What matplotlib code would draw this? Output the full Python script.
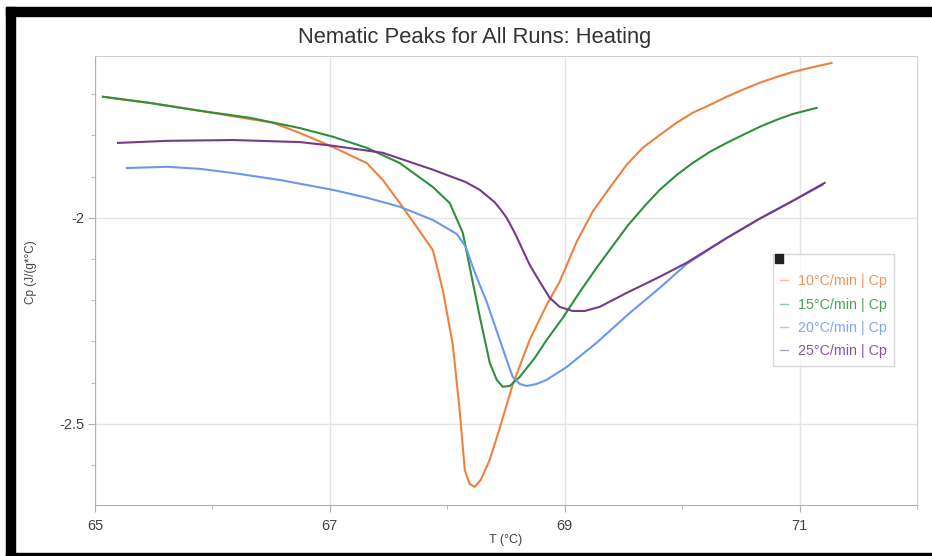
import matplotlib.pyplot as plt
from matplotlib.patches import Rectangle
from matplotlib.ticker import MultipleLocator

plt.rcParams['font.family'] = ['Liberation Sans', 'DejaVu Sans']

# 10 C/min
t_10 = [65.068, 65.468, 65.894, 66.319, 66.515, 66.745, 67.026, 67.315, 67.451, 67.596,
        67.740, 67.877, 67.962, 68.047, 68.106, 68.149, 68.191, 68.234, 68.285, 68.362,
        68.447, 68.557, 68.702, 68.847, 68.957, 69.102, 69.238, 69.383, 69.528, 69.664,
        69.809, 69.953, 70.089, 70.234, 70.379, 70.515, 70.660, 70.804, 70.940, 71.085, 71.272]
cp_10 = [-1.706, -1.721, -1.740, -1.760, -1.769, -1.794, -1.828, -1.867, -1.908, -1.964,
         -2.022, -2.078, -2.175, -2.308, -2.468, -2.612, -2.646, -2.653, -2.636, -2.587,
         -2.510, -2.405, -2.296, -2.211, -2.155, -2.058, -1.985, -1.927, -1.871, -1.830,
         -1.799, -1.769, -1.745, -1.726, -1.706, -1.689, -1.672, -1.658, -1.646, -1.636, -1.624]

# 15 C/min
t_15 = [65.068, 65.468, 65.894, 66.319, 66.745, 67.026, 67.315, 67.596, 67.877, 68.021,
        68.132, 68.191, 68.234, 68.277, 68.362, 68.421, 68.472, 68.532, 68.617, 68.745,
        68.847, 68.983, 69.128, 69.272, 69.409, 69.536, 69.681, 69.809, 69.953, 70.089,
        70.234, 70.379, 70.515, 70.660, 70.804, 70.940, 71.145]
cp_15 = [-1.706, -1.721, -1.740, -1.757, -1.782, -1.803, -1.830, -1.867, -1.925, -1.964,
         -2.036, -2.119, -2.180, -2.240, -2.352, -2.393, -2.410, -2.408, -2.386, -2.340,
         -2.296, -2.243, -2.180, -2.121, -2.068, -2.019, -1.971, -1.932, -1.896, -1.867,
         -1.840, -1.818, -1.799, -1.779, -1.762, -1.748, -1.733]

# 20 C/min
t_20 = [65.272, 65.613, 65.894, 66.174, 66.574, 67.026, 67.315, 67.596, 67.877, 68.081,
        68.157, 68.217, 68.277, 68.336, 68.447, 68.506, 68.557, 68.617, 68.677, 68.762,
        68.847, 69.017, 69.272, 69.553, 69.809, 70.038, 70.379, 70.660, 70.940, 71.196]
cp_20 = [-1.879, -1.876, -1.881, -1.891, -1.908, -1.932, -1.951, -1.973, -2.005, -2.039,
         -2.070, -2.119, -2.163, -2.204, -2.296, -2.345, -2.386, -2.403, -2.408, -2.403,
         -2.393, -2.362, -2.303, -2.231, -2.170, -2.112, -2.049, -2.002, -1.959, -1.920]

# 25 C/min
t_25 = [65.196, 65.613, 66.174, 66.745, 67.026, 67.451, 67.877, 68.157, 68.277, 68.404,
        68.455, 68.506, 68.574, 68.643, 68.702, 68.762, 68.872, 68.957, 69.068, 69.170,
        69.298, 69.528, 69.809, 70.038, 70.379, 70.660, 70.940, 71.213]
cp_25 = [-1.818, -1.813, -1.811, -1.816, -1.825, -1.842, -1.883, -1.913, -1.932, -1.962,
         -1.980, -2.000, -2.036, -2.078, -2.114, -2.143, -2.194, -2.216, -2.226, -2.226,
         -2.216, -2.182, -2.143, -2.109, -2.049, -2.002, -1.959, -1.915]

labels = ['10°C/min | Cp', '15°C/min | Cp', '20°C/min | Cp', '25°C/min | Cp']
colors = ['#f08040', '#2f8f3c', '#6a98ef', '#763a88']

fig = plt.figure(figsize=(9.32, 5.56), dpi=100)
ax = fig.add_axes([0.1019, 0.0917, 0.882, 0.8076])

for t, cp, lab, c in zip([t_10, t_15, t_20, t_25], [cp_10, cp_15, cp_20, cp_25], labels, colors):
    ax.plot(t, cp, color=c, lw=1.5, label=lab, solid_joinstyle='round')

ax.set_xlim(65, 72)
ax.set_ylim(-2.697, -1.607)
ax.set_xticks([65, 67, 69, 71])
ax.set_yticks([-2.5, -2])
ax.set_yticklabels(['-2.5', '-2'])
ax.xaxis.set_minor_locator(MultipleLocator(1))
ax.yaxis.set_minor_locator(MultipleLocator(0.1))
ax.grid(True, which='major', color='#e4e4e4', lw=1)
ax.set_axisbelow(True)
for s in ax.spines.values():
    s.set_color('#d0d0d0')
ax.spines['left'].set_color('#b0b0b0')
ax.spines['bottom'].set_color('#b0b0b0')
ax.tick_params(which='major', length=5, color='#b0b0b0', labelsize=10.5, labelcolor='#444444')
ax.tick_params(which='minor', length=3, color='#b0b0b0')
ax.tick_params(axis='x', pad=5)
ax.tick_params(axis='y', pad=2.5)

fig.text(475 / 932, 1 - 38 / 556, 'Nematic Peaks for All Runs: Heating', fontsize=15.8,
         color='#333333', ha='center', va='center')
ax.set_xlabel('T (°C)', fontsize=9, color='#444444')
ax.xaxis.set_label_coords(0.5, -0.064)
ax.set_ylabel('Cp (J/(g*°C)', fontsize=8.5, color='#444444')
ax.yaxis.set_label_coords(-0.0706, 0.519)

leg = ax.legend(loc='upper left', bbox_to_anchor=(0.825, 0.559), fontsize=10.3,
                title=' ', title_fontsize=2,
                handlelength=0.55, handletextpad=0.7, labelspacing=0.65,
                frameon=True, fancybox=False, edgecolor='#d0d0d0', labelcolor='linecolor',
                borderpad=0.5, borderaxespad=0)
for h in leg.get_lines():
    h.set_alpha(0.5)
    h.set_linewidth(1)
for txt in leg.get_texts():
    txt.set_alpha(0.85)
fig.patches.append(Rectangle((775 / 932, 1 - 263 / 556), 8 / 932, 9 / 556,
                             transform=fig.transFigure, color='#222222', zorder=10))

# black frame around the picture
fig.patches.append(Rectangle((6 / 932, 1 - 16 / 556), 926 / 932, 9 / 556,
                             transform=fig.transFigure, color='black'))
fig.patches.append(Rectangle((6 / 932, 0), 9 / 932, 1 - 7 / 556,
                             transform=fig.transFigure, color='black'))
fig.patches.append(Rectangle((6 / 932, 0), 926 / 932, 3 / 556,
                             transform=fig.transFigure, color='black'))

fig.savefig('out.png', dpi=100)
